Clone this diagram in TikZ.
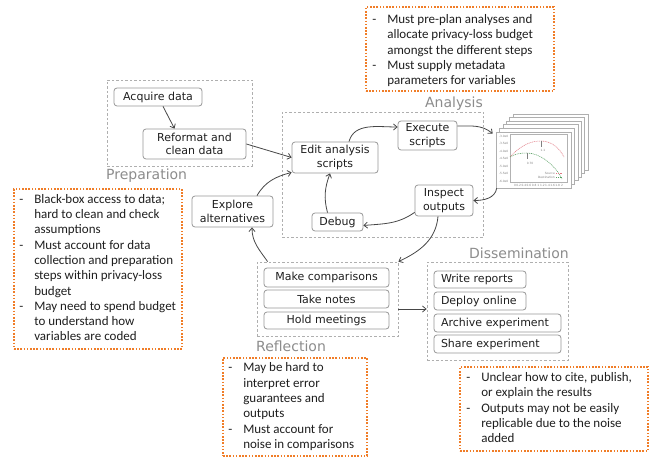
\documentclass[tikz,border=0pt]{standalone}
\usepackage{fontspec}
\setmainfont{DejaVu Sans}
\newfontfamily\calfont{Carlito}
\usetikzlibrary{arrows.meta,calc}
\definecolor{orng}{RGB}{240,125,40}
\definecolor{boxgray}{RGB}{150,150,150}
\definecolor{grpgray}{RGB}{175,175,175}
\definecolor{labgray}{RGB}{140,140,140}
\definecolor{arrgray}{RGB}{70,70,70}
\definecolor{txt}{RGB}{30,30,30}
\definecolor{plotred}{RGB}{225,120,130}
\definecolor{plotgreen}{RGB}{90,160,100}
\begin{document}
\begin{tikzpicture}[x=1pt,y=-1pt,
  stepbox/.style={draw=boxgray, rounded corners=3pt, line width=0.8pt, inner sep=0pt, align=center, text=txt, font=\fontsize{11}{13.5}\selectfont},
  leftbox/.style={stepbox, align=left, inner xsep=7pt},
  grpbox/.style={draw=grpgray, dash pattern=on 2.5pt off 2pt, line width=0.8pt, inner sep=0pt},
  notebox/.style={draw=orng, line width=1.8pt, dash pattern=on 1.6pt off 1.6pt, inner sep=0pt},
  notetext/.style={anchor=west, inner sep=0pt, text=txt, font=\calfont\fontsize{13}{15.3}\selectfont, align=left},
  grplabel/.style={text=labgray, font=\fontsize{14}{16}\selectfont, inner sep=0pt},
  arr/.style={draw=arrgray, line width=0.8pt, -{Straight Barb[length=3.5pt,width=6pt]}},
  sheet/.style={draw=grpgray, fill=white, line width=0.6pt, inner sep=0pt, minimum width=75pt, minimum height=56pt},
  tiny/.style={inner sep=0pt, text=gray, font=\fontsize{2.9}{3.2}\selectfont},
]
\useasboundingbox (0,0) rectangle (650,457);

% groups
\node[grpbox, minimum width=145pt, minimum height=86pt] (prep) at (179.5,123) {};
\node[grpbox, minimum width=201pt, minimum height=125pt] (ana) at (382.5,174.5) {};
\node[grpbox, minimum width=141pt, minimum height=74pt] (refl) at (327.5,299) {};
\node[grpbox, minimum width=141pt, minimum height=98pt] (dis) at (497.5,311) {};

\node[grplabel, anchor=west] (preplab) at (106,176) {Preparation};
\node[grplabel, anchor=east] (analab) at (483,104) {Analysis};
\node[grplabel, anchor=west] (refllab) at (256,346) {Reflection};
\node[grplabel, anchor=east] (dislab) at (569,253) {Dissemination};

% steps
\node[stepbox, minimum width=88pt, minimum height=18pt] (acq) at (158,97) {Acquire data};
\node[stepbox, minimum width=103pt, minimum height=30pt] (ref) at (194.5,144) {Reformat and\\clean data};
\node[stepbox, minimum width=86pt, minimum height=31pt] (edit) at (335,157.5) {Edit analysis\\scripts};
\node[stepbox, minimum width=59pt, minimum height=29pt] (exe) at (427.5,135.5) {Execute\\scripts};
\node[stepbox, minimum width=58pt, minimum height=31pt] (insp) at (444,200.5) {Inspect\\outputs};
\node[stepbox, minimum width=51pt, minimum height=18pt] (dbg) at (337.5,222) {Debug};
\node[stepbox, minimum width=81pt, minimum height=31pt] (expl) at (232.5,211.5) {Explore\\alternatives};
\node[stepbox, minimum width=125pt, minimum height=19pt] (cmp) at (326.5,277.5) {Make comparisons};
\node[stepbox, minimum width=125pt, minimum height=18pt] (notes) at (326.5,299) {Take notes};
\node[stepbox, minimum width=125pt, minimum height=17pt] (meet) at (326.5,320.5) {Hold meetings};
\node[leftbox, text width=78pt, minimum height=17pt] (rep) at (480,279.5) {Write reports};
\node[leftbox, text width=78pt, minimum height=18pt] (dep) at (480,301) {Deploy online};
\node[leftbox, text width=113pt, minimum height=18pt] (arc) at (497.5,323) {Archive experiment};
\node[leftbox, text width=113pt, minimum height=18pt] (shr) at (497.5,344) {Share experiment};

% stack of plots
\foreach \k in {5,4,3,2,1}{
  \node[sheet] (sheet\k) at (533.5+3.4*\k,160-3.6*\k) {};
}
\node[sheet] (plot) at (533.5,160) {};
\draw[draw=gray!60, line width=0.35pt] (510,134) rectangle (567,182);
\foreach \v [count=\i from 0] in {-3.0e0,-3.5e0,-4.0e0,-4.5e0,-5.0e0,-5.5e0,-6.0e0}{
  \node[tiny, anchor=east] (yl\i) at (508.5,136+7.5*\i) {\v};
}
\node[tiny] (xl) at (538.5,185) {0\,0.2\,0.4\,0.6\,0.8\,\,1\,\,1.2\,1.4\,1.6\,1.8\,\,2};
\draw[plotred, dash pattern=on 1pt off 0.8pt, line width=0.55pt]
  (510,157) .. controls (522,144) and (532,141) .. (541,141) .. controls (552,141) and (560,149) .. (564,157);
\draw[plotgreen, dash pattern=on 1pt off 0.8pt, line width=0.55pt]
  (510,157) .. controls (515,154) and (520,153) .. (527,153) .. controls (540,153) and (555,165) .. (562,179);
\draw[gray, line width=0.25pt] (541,141.5) -- (541,147);
\draw[gray, line width=0.25pt] (527,153.5) -- (527,159);
\node[tiny] (pk1) at (543,150) {1.1};
\node[tiny] (pk2) at (530,163) {0.70};
\node[tiny, anchor=east] (lg1) at (555,173) {Source};
\node[tiny, anchor=east] (lg2) at (555,177) {Destination};
\draw[plotred, dash pattern=on 1pt off 0.8pt, line width=0.55pt] (556,173) -- (563,173);
\draw[plotgreen, dash pattern=on 1pt off 0.8pt, line width=0.55pt] (556,177) -- (563,177);

% notes
\node[notebox, minimum width=188pt, minimum height=84pt] (ntop) at (460,49) {};
\node[notetext] (ttop) at ([shift={(7pt,-2pt)}]ntop.west) {\begin{tabular}{@{}p{15pt}@{}l@{}}
-&Must pre-plan analyses and\\
 &allocate privacy-loss budget\\
 &amongst the different steps\\
-&Must supply metadata\\
 &parameters for variables
\end{tabular}};

\node[notebox, minimum width=168pt, minimum height=160pt] (nleft) at (98,269) {};
\node[notetext] (tleft) at ([xshift=6pt]nleft.west) {\begin{tabular}{@{}p{15pt}@{}l@{}}
-&Black-box access to data;\\
 &hard to clean and check\\
 &assumptions\\
-&Must account for data\\
 &collection and preparation\\
 &steps within privacy-loss\\
 &budget\\
-&May need to spend budget\\
 &to understand how\\
 &variables are coded
\end{tabular}};

\node[notebox, minimum width=144pt, minimum height=98pt] (nmid) at (295,407) {};
\node[notetext] (tmid) at ([xshift=6pt]nmid.west) {\begin{tabular}{@{}p{15pt}@{}l@{}}
-&May be hard to\\
 &interpret error\\
 &guarantees and\\
 &outputs\\
-&Must account for\\
 &noise in comparisons
\end{tabular}};

\node[notebox, minimum width=188pt, minimum height=84pt] (nright) at (554,409) {};
\node[notetext] (tright) at ([xshift=7pt]nright.west) {\begin{tabular}{@{}p{15pt}@{}l@{}}
-&Unclear how to cite, publish,\\
 &or explain the results\\
-&Outputs may not be easily\\
 &replicable due to the noise\\
 &added
\end{tabular}};

% connectors
\draw[arr] ([xshift=5pt]acq.south) -- ([xshift=-20pt]ref.north);
\draw[arr] (ref.east) -- (edit.west);
\draw[arr] ([xshift=14pt]edit.north) to[out=75,in=180] ([yshift=8.5pt]exe.west);
\draw[arr] ([yshift=9.5pt]exe.east) to[out=0,in=140] ([shift={(-3pt,-2pt)}]plot.north west);
\draw[arr] ([xshift=1pt]plot.south west) to[out=-100,in=0] (insp.east);
\draw[arr] ([yshift=4pt]insp.south west) to[out=-145,in=5] ([yshift=-3.5pt]dbg.east);
\draw[arr] ([xshift=-10pt]dbg.north) to[out=105,in=-110] ([xshift=-5pt]edit.south);
\draw[arr] ([xshift=-6pt]insp.south) to[out=-95,in=25] (refl.north east);
\draw[arr] ([xshift=11pt]refl.north west) to[out=125,in=-90] ([xshift=19.5pt]expl.south);
\draw[arr] ([xshift=24.5pt]expl.north) to[out=60,in=195] ([yshift=1pt]edit.south west);
\coordinate (rd) at ([yshift=-10pt]refl.east);
\draw[arr] (rd) -- (rd -| dis.west);
\end{tikzpicture}
\end{document}
